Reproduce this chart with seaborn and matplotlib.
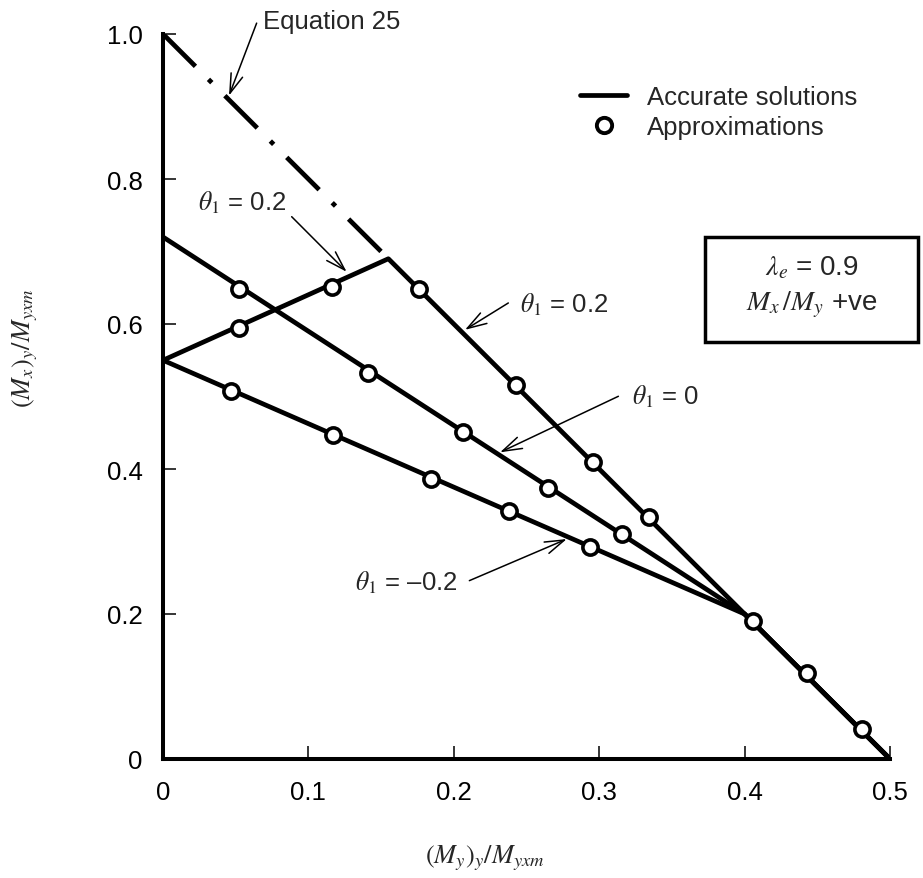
import matplotlib

matplotlib.use("Agg")
import matplotlib.pyplot as plt
import pandas as pd
import seaborn as sns
from matplotlib.lines import Line2D
from matplotlib.patches import Rectangle

# accurate solutions (corner points of each curve)
theta_names = ["0.2", "0", "-0.2"]
acc_x = {
    "0.2": [0.0, 0.155, 0.5],
    "0": [0.0, 0.4, 0.5],
    "-0.2": [0.0, 0.4, 0.5],
}
acc_y = {
    "0.2": [0.55, 0.69, 0.0],
    "0": [0.72, 0.2, 0.0],
    "-0.2": [0.55, 0.2, 0.0],
}

# Equation 25 (dash-dot)
eq25_x = [0.0, 0.155]
eq25_y = [1.0, 0.69]

# approximations (circles)
approx_x = {
    "0.2": [0.052, 0.116, 0.176, 0.243, 0.296, 0.334],
    "0": [0.052, 0.141, 0.206, 0.265, 0.316],
    "-0.2": [0.047, 0.117, 0.184, 0.238, 0.294],
    "common": [0.406, 0.443, 0.481],
}
approx_y = {
    "0.2": [0.595, 0.651, 0.648, 0.516, 0.410, 0.334],
    "0": [0.648, 0.532, 0.451, 0.374, 0.311],
    "-0.2": [0.507, 0.447, 0.386, 0.342, 0.292],
    "common": [0.191, 0.119, 0.042],
}

x_ticks = [0, 0.1, 0.2, 0.3, 0.4, 0.5]
x_ticklabels = ["0", "0.1", "0.2", "0.3", "0.4", "0.5"]
y_ticks = [0, 0.2, 0.4, 0.6, 0.8, 1.0]
y_ticklabels = ["0", "0.2", "0.4", "0.6", "0.8", "1.0"]

# build long-form tables for seaborn
acc_df = pd.concat(
    [pd.DataFrame({"x": acc_x[k], "y": acc_y[k], "curve": k}) for k in theta_names],
    ignore_index=True,
)
eq_df = pd.DataFrame({"x": eq25_x, "y": eq25_y})
approx_df = pd.concat(
    [pd.DataFrame({"x": approx_x[k], "y": approx_y[k], "curve": k}) for k in approx_x],
    ignore_index=True,
)

sns.set_theme(style="ticks")
plt.rcParams["font.family"] = ["Liberation Sans", "DejaVu Sans"]
plt.rcParams["mathtext.fontset"] = "stix"

W, H = 923, 879
fig = plt.figure(figsize=(W / 100, H / 100), dpi=100)
ax = fig.add_axes([163 / W, 1 - 760 / H, (890 - 163) / W, (760 - 35) / H])

LW = 3.4
sns.lineplot(
    data=acc_df, x="x", y="y", units="curve", estimator=None, sort=False,
    color="black", linewidth=LW, ax=ax, zorder=3,
)
sns.lineplot(
    data=eq_df, x="x", y="y", estimator=None, sort=False, color="black",
    linewidth=LW, linestyle=(0, (9.7, 3.9, 1.0, 3.9)), ax=ax, zorder=3,
)
sns.scatterplot(
    data=approx_df, x="x", y="y", marker="o", s=120, color="white",
    edgecolor="black", linewidth=2.6, ax=ax, zorder=5, legend=False,
)

ax.set_xlim(0, 0.5)
ax.set_ylim(0, 1.0)
ax.set_xticks(x_ticks)
ax.set_xticklabels(x_ticklabels)
ax.set_yticks(y_ticks)
ax.set_yticklabels(y_ticklabels)
ax.set_xlabel("")
ax.set_ylabel("")
sns.despine(ax=ax)
for side in ["left", "bottom"]:
    ax.spines[side].set_linewidth(2.9)
    ax.spines[side].set_color("black")
ax.tick_params(axis="both", direction="in", length=9.5, width=1.1,
               labelsize=18.5, colors="black")
ax.tick_params(axis="x", pad=15)
ax.tick_params(axis="y", pad=14.5)

# axis labels
fig.text(485 / W, 1 - 858 / H, r"$(M_y)_y/M_{yxm}$", ha="center", va="center",
         fontsize=19)
fig.text(25 / W, 1 - 348 / H, r"$(M_x)_y/M_{yxm}$", ha="center", va="center",
         fontsize=19, rotation=90)

# annotations
arrow = dict(arrowstyle="->,head_length=0.7,head_width=0.22", lw=1.1,
             color="black", shrinkA=0, shrinkB=0, mutation_scale=20)
TS = 18.5
ax.text(0.0688, 1.018, "Equation 25", fontsize=TS, va="center", ha="left",
        clip_on=False)
ax.annotate("", xy=(0.0454, 0.915), xytext=(0.0644, 1.015), arrowprops=arrow,
            annotation_clip=False)

ax.text(0.0241, 0.768, r"$\theta_1$ = 0.2", fontsize=TS, va="center", ha="left")
ax.annotate("", xy=(0.1263, 0.672), xytext=(0.0885, 0.748), arrowprops=arrow)

ax.text(0.2455, 0.628, r"$\theta_1$ = 0.2", fontsize=TS, va="center", ha="left")
ax.annotate("", xy=(0.2077, 0.592), xytext=(0.2375, 0.629), arrowprops=arrow)

ax.text(0.3226, 0.5007, r"$\theta_1$ = 0", fontsize=TS, va="center", ha="left")
ax.annotate("", xy=(0.2318, 0.423), xytext=(0.3132, 0.5003), arrowprops=arrow)

ax.text(0.132, 0.244, r"$\theta_1$ = –0.2", fontsize=TS, va="center", ha="left")
ax.annotate("", xy=(0.2777, 0.3034), xytext=(0.2107, 0.246), arrowprops=arrow)

# legend
handles = [
    Line2D([], [], color="black", lw=LW),
    Line2D([], [], color="black", lw=0, marker="o", markersize=11,
           markerfacecolor="white", markeredgewidth=2.8),
]
ax.legend(
    handles, ["Accurate solutions", "Approximations"], loc="upper left",
    bbox_to_anchor=(580 / W, 1 - 86 / H), bbox_transform=fig.transFigure,
    frameon=False, fontsize=TS, handlelength=1.83, handletextpad=0.78,
    borderpad=0, borderaxespad=0, labelspacing=0.25,
)

# parameter box
fig.patches.append(Rectangle((705 / W, 1 - 343 / H), 213 / W, 105 / H,
                             transform=fig.transFigure, fill=False,
                             edgecolor="black", lw=2.5))
fig.text(812 / W, 1 - 268 / H, r"$\lambda_e$ = 0.9", ha="center", va="center",
         fontsize=20)
fig.text(812 / W, 1 - 305 / H, r"$M_x\,/M_y$ +ve", ha="center", va="center",
         fontsize=20)

fig.savefig("out.png", dpi=100)
plt.close(fig)
